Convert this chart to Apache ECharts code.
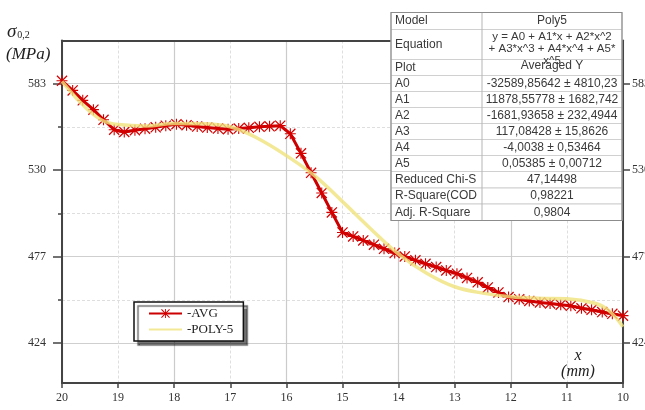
<!DOCTYPE html>
<html>
<head>
<meta charset="utf-8">
<script src="https://cdn.jsdelivr.net/npm/echarts@6/dist/echarts.min.js"></script>
<style>
  html, body { margin: 0; padding: 0; background: #fff; }
  #chart { width: 645px; height: 410px; }
</style>
</head>
<body>
<div id="chart"></div>
<script>
// measured points (x in mm, sigma 0.2 in MPa)
const avgX = [20, 19.81, 19.63, 19.44, 19.26, 19.07, 18.89, 18.70, 18.52, 18.33, 18.15,
  17.96, 17.78, 17.59, 17.41, 17.22, 17.04, 16.85, 16.67, 16.48, 16.30, 16.11,
  15.93, 15.74, 15.56, 15.37, 15.19, 15.00, 14.81, 14.63, 14.44, 14.26, 14.07,
  13.89, 13.70, 13.52, 13.33, 13.15, 12.96, 12.78, 12.59, 12.41, 12.22, 12.04,
  11.85, 11.67, 11.48, 11.30, 11.11, 10.93, 10.74, 10.56, 10.37, 10.19, 10.00];
const avgY = [584.8, 578.9, 572.8, 567.1, 560.9, 554.8, 553.4, 554.5, 555.4, 556.3, 557.3,
  558.2, 557.6, 556.7, 556.1, 555.5, 555.1, 555.5, 556.0, 556.6, 556.9, 557.3,
  552.3, 540.3, 528.4, 516.0, 504.1, 491.8, 489.4, 486.9, 484.3, 481.8, 479.2,
  477.1, 474.7, 472.6, 470.6, 468.5, 466.5, 463.9, 461.2, 458.1, 455.0, 452.2,
  450.9, 449.8, 448.9, 448.3, 447.5, 446.8, 445.3, 444.4, 443.0, 441.9, 440.8];

// poly-5 fit curve
const polyX = [20, 19.75, 19.5, 19.25, 19, 18.5, 18, 17.5, 17, 16.5, 16, 15.5, 15,
  14.5, 14, 13.5, 13, 12.5, 12, 11.5, 11, 10.5, 10.25, 10];
const polyY = [584.4, 574.4, 565.8, 560.0, 558.0, 557.1, 558.6, 558.5, 556.6, 549.3,
  538.9, 526.6, 510.7, 494.1, 478.5, 466.8, 458.5, 454.6, 452.4, 451.5, 451.2,
  448.4, 443.8, 434.0];

const majorY = [424, 477, 530, 583];
const minorY = [450.5, 503.5, 556.5];

// fit report table
const tblLabels = ["Model", "Equation", "Plot", "A0", "A1", "A2", "A3", "A4", "A5",
  "Reduced Chi-S", "R-Square(COD", "Adj. R-Square"];
const tblValues = ["Poly5", "", "Averaged Y", "-32589,85642 ± 4810,23",
  "11878,55778 ± 1682,742", "-1681,93658 ± 232,4944", "117,08428 ± 15,8626",
  "-4,0038 ± 0,53464", "0,05385 ± 0,00712", "47,14498", "0,98221", "0,9804"];
const eqLines = ["y = A0 + A1*x + A2*x^2", "+ A3*x^3 + A4*x^4 + A5*", "x^5"];

const SERIF = "Liberation Serif";
const SANS = "Liberation Sans";
const AXIS = "#444";

// asterisk marker
const STAR = "path://M0,4.5L10,4.5L10,5.5L0,5.5Z M4.5,0L5.5,0L5.5,10L4.5,10Z " +
  "M0,0.8L0.8,0L10,9.2L9.2,10Z M9.2,0L10,0.8L0.8,10L0,9.2Z";

function buildTable() {
  const x0 = 391, x1 = 482, x2 = 622;
  const tops = [12.5, 29.5, 59.5, 75.5, 91.5, 107.5, 123.5, 139.5, 155.5, 171.5, 188, 204, 220.5];
  const els = [];
  tblLabels.forEach((lab, i) => {
    const y = tops[i], h = tops[i + 1] - tops[i];
    els.push({ type: "rect", z: 100, shape: { x: x0, y: y, width: x2 - x0, height: h },
      style: { fill: "#fff", stroke: "#d0d0d0", lineWidth: 1 } });
    els.push({ type: "text", z: 101, x: x0 + 4, y: y + h / 2,
      style: { text: lab, fontFamily: SANS, fontSize: 12, fill: "#3a3a3a", verticalAlign: "middle" } });
    if (i === 1) {
      eqLines.forEach((t, j) => {
        els.push({ type: "text", z: 101, x: (x1 + x2) / 2, y: y + 1 + j * 12,
          style: { text: t, fontFamily: SANS, fontSize: 11.5, fill: "#3a3a3a", align: "center", verticalAlign: "top" } });
      });
    } else {
      els.push({ type: "text", z: 101, x: (x1 + x2) / 2, y: y + h / 2 - (i === 2 ? 1.5 : 0),
        style: { text: tblValues[i], fontFamily: SANS, fontSize: 12, fill: "#3a3a3a", align: "center", verticalAlign: "middle" } });
    }
  });
  els.push({ type: "line", z: 102, shape: { x1: x1, y1: tops[0], x2: x1, y2: tops[tops.length - 1] },
    style: { stroke: "#b5b5b5", lineWidth: 1 } });
  els.push({ type: "rect", z: 102, shape: { x: x0, y: tops[0], width: x2 - x0, height: tops[tops.length - 1] - tops[0] },
    style: { fill: "none", stroke: "#8c8c8c", lineWidth: 1.2 } });
  return els;
}

const chart = echarts.init(document.getElementById("chart"), null, { renderer: "canvas" });

const yBase = { type: "value", min: 399.5, max: 609.5, gridIndex: 0 };

chart.setOption({
  animation: false,
  backgroundColor: "#fff",
  grid: { left: 62, right: 22, top: 40.5, bottom: 27, containLabel: false, outerBoundsMode: "none" },
  legend: {
    orient: "vertical", left: 134, top: 302,
    padding: [5, 10, 5, 14], itemGap: 3, itemWidth: 33, itemHeight: 11,
    backgroundColor: "#fff", borderColor: "#111", borderWidth: 1.5, borderRadius: 0,
    shadowColor: "rgba(0,0,0,0.55)", shadowOffsetX: 4, shadowOffsetY: 4, shadowBlur: 1,
    formatter: n => "-" + n,
    textStyle: { fontFamily: SERIF, fontSize: 13, color: "#222" },
    data: ["AVG", { name: "POLY-5", itemStyle: { opacity: 0 } }]
  },
  xAxis: [
    {
      type: "value", min: 10, max: 20, interval: 1, inverse: true, position: "bottom",
      axisLine: { show: true, onZero: false, lineStyle: { color: AXIS, width: 2 } },
      axisTick: { show: true, length: 5, lineStyle: { color: AXIS, width: 1.5 } },
      axisLabel: { margin: 9, fontFamily: SERIF, fontSize: 12, color: "#333" },
      splitLine: { show: true, lineStyle: { color: "#dedede", type: [3, 2], width: 1 } }
    },
    {
      type: "value", min: 10, max: 20, interval: 2, inverse: true, position: "top",
      axisLine: { show: true, onZero: false, lineStyle: { color: AXIS, width: 2 } },
      axisTick: { show: false }, axisLabel: { show: false },
      splitLine: { show: true, lineStyle: { color: "#cbcbcb", width: 1.2 } }
    }
  ],
  yAxis: [
    Object.assign({}, yBase, {
      position: "left",
      axisLine: { show: true, onZero: false, lineStyle: { color: AXIS, width: 2 } },
      axisTick: { show: true, length: 9, customValues: majorY, lineStyle: { color: AXIS, width: 1.5 } },
      axisLabel: { customValues: majorY, margin: 16, fontFamily: SERIF, fontSize: 12, color: "#333" },
      splitLine: { show: true, lineStyle: { color: "#cfcfcf", width: 1.2 } }
    }),
    Object.assign({}, yBase, {
      position: "left",
      axisLine: { show: false },
      axisTick: { show: true, length: 4, customValues: minorY, lineStyle: { color: AXIS, width: 1.5 } },
      axisLabel: { show: false },
      splitLine: { show: true, lineStyle: { color: "#dedede", type: [3, 2], width: 1 } }
    }),
    Object.assign({}, yBase, {
      position: "right",
      axisLine: { show: true, onZero: false, lineStyle: { color: AXIS, width: 2 } },
      axisTick: { show: true, length: 7, customValues: majorY, lineStyle: { color: AXIS, width: 1.5 } },
      axisLabel: { customValues: majorY, margin: 9, fontFamily: SERIF, fontSize: 12, color: "#333" },
      splitLine: { show: false }
    })
  ],
  series: [
    {
      name: "AVG", type: "line", xAxisIndex: 0, yAxisIndex: 0, z: 3,
      data: avgX.map((x, i) => [x, avgY[i]]),
      symbol: STAR, symbolSize: 11,
      itemStyle: { color: "#d40000" },
      lineStyle: { color: "#cc0000", width: 3 }
    },
    {
      name: "POLY-5", type: "line", xAxisIndex: 0, yAxisIndex: 0, z: 4,
      data: polyX.map((x, i) => [x, polyY[i]]),
      smooth: 0.4, symbol: "none", showSymbol: false,
      itemStyle: { color: "#efe27c" },
      lineStyle: { color: "#efe27c", width: 3.5, opacity: 0.8 }
    }
  ],
  graphic: [
    { type: "text", z: 100, x: 7, y: 22,
      style: { text: "{a|σ}{b|0,2}", rich: {
        a: { fontFamily: SERIF, fontStyle: "italic", fontSize: 19, fill: "#222" },
        b: { fontFamily: SERIF, fontSize: 10, fill: "#222", padding: [8, 0, 0, 1] } } } },
    { type: "text", z: 100, x: 6, y: 46,
      style: { text: "(MPa)", fontFamily: SERIF, fontStyle: "italic", fontSize: 17, fill: "#222" } },
    { type: "text", z: 100, x: 578, y: 356,
      style: { text: "x", fontFamily: SERIF, fontStyle: "italic", fontSize: 16, fill: "#222",
        align: "center", verticalAlign: "middle" } },
    { type: "text", z: 100, x: 578, y: 372,
      style: { text: "(mm)", fontFamily: SERIF, fontStyle: "italic", fontSize: 16, fill: "#222",
        align: "center", verticalAlign: "middle" } }
  ].concat(buildTable())
});
</script>
</body>
</html>
